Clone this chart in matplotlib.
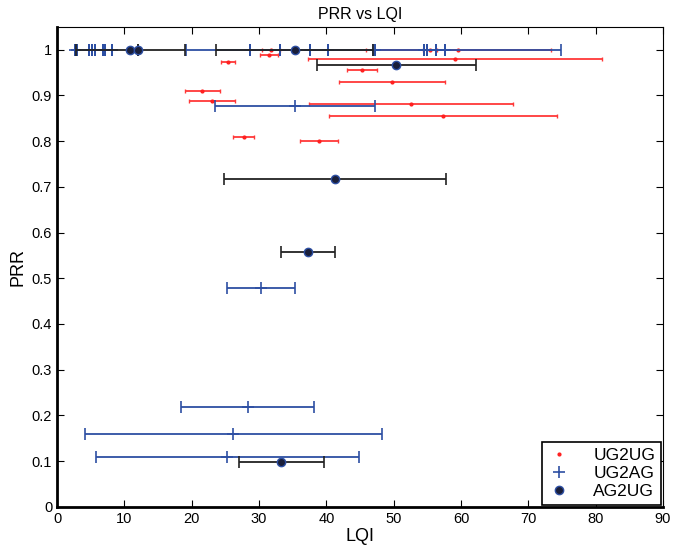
#!/usr/bin/env python3

import matplotlib
matplotlib.use("Agg")
import matplotlib.pyplot as plt
from matplotlib.lines import Line2D

# UG2UG: mean LQI, std of LQI, PRR
ug2ug_lqi = [31.8, 55.4, 59.6, 31.5, 25.4, 59.1, 45.3, 49.8, 21.6, 23.0, 52.6, 57.3, 27.7, 38.9]
ug2ug_err = [1.3, 1.0, 13.7, 1.3, 1.0, 21.8, 2.3, 7.9, 2.6, 3.4, 15.2, 16.9, 1.5, 2.8]
ug2ug_prr = [1.0, 1.0, 1.0, 0.988, 0.973, 0.980, 0.955, 0.929, 0.909, 0.888, 0.881, 0.854, 0.810, 0.800]

# UG2AG
ug2ag_lqi = [2.6, 2.9, 4.8, 5.2, 5.7, 6.9, 7.2, 8.1, 28.7, 33.1, 37.6, 40.3, 47.2, 54.5, 55.0,
             56.3, 57.6, 47.0, 35.3, 30.3, 28.3, 26.2, 25.3]
ug2ag_err = [0, 0, 0, 0, 0, 0, 0, 0, 0, 0, 0, 0, 0, 0, 0,
             0, 0, 27.8, 11.9, 5.0, 9.9, 22.1, 19.5]
ug2ag_prr = [1.0] * 18 + [0.877, 0.478, 0.218, 0.159, 0.108]

# AG2UG
ag2ug_lqi = [10.9, 12.1, 35.3, 50.4, 41.3, 37.3, 33.3]
ag2ug_err = [8.1, 0, 11.7, 11.8, 16.5, 4.0, 6.3]
ag2ug_prr = [1.0, 1.0, 1.0, 0.967, 0.718, 0.558, 0.098]

series = ["UG2UG", "UG2AG", "AG2UG"]


def main():
    plt.rcParams["font.family"] = ["Liberation Sans", "DejaVu Sans"]
    fig = plt.figure(figsize=(6.87, 5.49), dpi=100)
    ax = fig.add_axes([0.083, 0.077, 0.882, 0.874])

    ax.errorbar(ug2ug_lqi, ug2ug_prr, xerr=ug2ug_err, fmt=".", color="#ff2020",
                ecolor="#ff3838", markersize=4, elinewidth=1.3, capsize=1.5,
                capthick=1, zorder=2)
    ax.errorbar(ug2ag_lqi, ug2ag_prr, xerr=ug2ag_err, fmt="+", color="#2d4fa3",
                ecolor="#2d4fa3", markersize=8, markeredgewidth=1.2, elinewidth=1.3,
                capsize=4, capthick=1.2, zorder=3)
    ax.errorbar(ag2ug_lqi, ag2ug_prr, xerr=ag2ug_err, fmt="o", color="#1a1f3a",
                markeredgecolor="#2d4fa3", ecolor="#222222", markersize=6,
                elinewidth=1.3, capsize=4, capthick=1.2, zorder=4)

    ax.set_xlim(0, 90)
    ax.set_ylim(0, 1.05)
    ax.set_xticks(range(0, 91, 10))
    ax.set_yticks([i / 10 for i in range(11)])
    ax.set_yticklabels(["0", "0.1", "0.2", "0.3", "0.4", "0.5", "0.6", "0.7", "0.8", "0.9", "1"])
    ax.tick_params(direction="in", top=True, right=True, labelsize=10.5, length=5)
    for side in ["left", "bottom"]:
        ax.spines[side].set_linewidth(2)
    for side in ["top", "right"]:
        ax.spines[side].set_linewidth(0.8)

    ax.set_xlabel("LQI", fontsize=13, labelpad=2)
    ax.set_ylabel("PRR", fontsize=13, labelpad=4)
    ax.set_title("PRR vs LQI", fontsize=11.5, pad=6)

    handles = [
        Line2D([], [], ls="none", marker=".", color="#ff2020", markersize=4),
        Line2D([], [], ls="none", marker="+", color="#2d4fa3", markersize=9, markeredgewidth=1.2),
        Line2D([], [], ls="none", marker="o", color="#1a1f3a", markeredgecolor="#2d4fa3", markersize=6),
    ]
    leg = ax.legend(handles, series, loc="lower right", fontsize=12.5, fancybox=False,
                    framealpha=1, edgecolor="black", borderaxespad=0.1, handlelength=1.2,
                    handletextpad=1.4, borderpad=0.35, labelspacing=0.15)
    leg.get_frame().set_linewidth(1.2)

    fig.savefig("out.png", dpi=100)
    plt.close(fig)


if __name__ == "__main__":
    main()
